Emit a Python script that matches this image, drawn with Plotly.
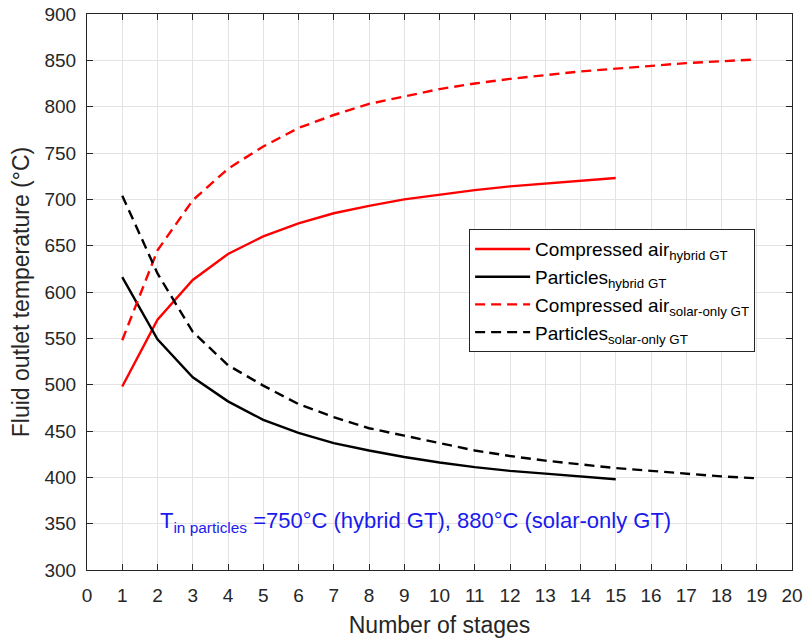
import plotly.graph_objects as go

# Stage counts
stages_hybrid = list(range(1, 16))
stages_solar = list(range(1, 20))

# Outlet temperatures (°C)
air_hybrid = [498, 570, 613, 641, 660, 674, 685, 693, 700, 705, 710, 714, 717, 720, 723]
particles_hybrid = [616, 549, 508, 482, 462, 448, 437, 429, 422, 416, 411, 407, 404, 401, 398]
air_solar = [548, 645, 699, 733, 757, 777, 791, 803, 811, 819, 825, 830, 834, 838, 841, 844, 847, 849, 851]
particles_solar = [704, 620, 557, 521, 499, 479, 465, 453, 445, 437, 429, 423, 418, 414, 410, 407, 404, 401, 399]

x_ticks = list(range(0, 21))
y_ticks = list(range(300, 901, 50))

FONT = "Liberation Sans, Arial, sans-serif"
DASH = "10px,6px"
LW = 2.4

fig = go.Figure()
fig.add_trace(go.Scatter(x=stages_hybrid, y=air_hybrid, mode="lines",
                         line=dict(color="#ff0000", width=LW),
                         name="Compressed air<sub>hybrid GT</sub>"))
fig.add_trace(go.Scatter(x=stages_hybrid, y=particles_hybrid, mode="lines",
                         line=dict(color="#000000", width=LW),
                         name="Particles<sub>hybrid GT</sub>"))
fig.add_trace(go.Scatter(x=stages_solar, y=air_solar, mode="lines",
                         line=dict(color="#ff0000", width=LW, dash=DASH),
                         name="Compressed air<sub>solar-only GT</sub>"))
fig.add_trace(go.Scatter(x=stages_solar, y=particles_solar, mode="lines",
                         line=dict(color="#000000", width=LW, dash=DASH),
                         name="Particles<sub>solar-only GT</sub>"))

fig.add_annotation(x=2, y=352, xref="x", yref="y", xanchor="left", yanchor="middle",
                   text="T<sub>in particles</sub> =750°C (hybrid GT), 880°C (solar-only GT)",
                   showarrow=False, font=dict(family=FONT, size=22, color="#1a1aee"))

axis_common = dict(showgrid=True, gridcolor="#e3e3e3", gridwidth=1,
                   showline=True, linecolor="#262626", linewidth=1, mirror="ticks",
                   ticks="inside", ticklen=6, tickcolor="#262626",
                   tickfont=dict(family=FONT, size=19, color="#262626"),
                   zeroline=False, automargin=False)

fig.update_xaxes(range=[0, 20], tickvals=x_ticks, ticklabelstandoff=8,
                 title=dict(text="Number of stages", font=dict(family=FONT, size=23, color="#262626"),
                            standoff=12),
                 **axis_common)
fig.update_yaxes(range=[300, 900], tickvals=y_ticks, ticklabelstandoff=6,
                 title=dict(text="Fluid outlet temperature (°C)",
                            font=dict(family=FONT, size=23, color="#262626"), standoff=8),
                 **axis_common)

fig.update_layout(
    width=806, height=641,
    margin=dict(l=87, r=14, t=14, b=71),
    paper_bgcolor="white", plot_bgcolor="white",
    font=dict(family=FONT, color="#262626"),
    legend=dict(x=0.542, y=0.613, xanchor="left", yanchor="top",
                bgcolor="white", bordercolor="#262626", borderwidth=1,
                font=dict(family=FONT, size=19, color="#000000"),
                tracegroupgap=0, itemwidth=55),
)

fig.write_html("out.html")
